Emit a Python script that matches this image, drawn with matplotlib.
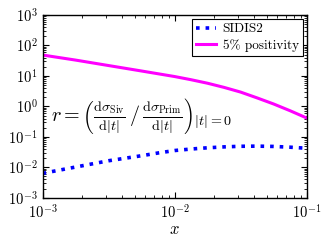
import numpy as np
import matplotlib
matplotlib.use("Agg")
import matplotlib.pyplot as plt

plt.rcParams["font.family"] = "serif"
plt.rcParams["font.serif"] = ["cmr10"]
plt.rcParams["mathtext.fontset"] = "cm"
plt.rcParams["axes.formatter.use_mathtext"] = True
plt.rcParams["axes.unicode_minus"] = False

# values (x given as log10 exponents)
logx_sidis = [-3.0, -2.75, -2.5, -2.25, -2.125, -2.0, -1.875, -1.75, -1.625,
              -1.5, -1.375, -1.25, -1.125, -1.0]
sidis2 = [0.00632, 0.0102, 0.0164, 0.024, 0.0295, 0.0355, 0.0398, 0.0437, 0.0468,
          0.049, 0.0495, 0.0484, 0.0457, 0.0422]
logx_pos = [-3.0, -2.75, -2.5, -2.25, -2.0, -1.875, -1.75, -1.625,
            -1.5, -1.375, -1.25, -1.125, -1.0]
positivity = [48.5, 33.1, 21.9, 14.5, 9.55, 7.5, 5.75, 4.2,
              2.95, 1.9, 1.2, 0.72, 0.417]

x_sidis = [10**v for v in logx_sidis]
x_pos = [10**v for v in logx_pos]

fig = plt.figure(figsize=(3.3, 2.4), dpi=100)
ax = fig.add_axes([0.129, 0.176, 0.80, 0.7615])

ax.plot(x_sidis, sidis2, color="#0000ff", ls=":", lw=2.6, label="SIDIS2")
ax.plot(x_pos, positivity, color="#ff00ff", ls="-", lw=2.2, label="5% positivity")

ax.set_xscale("log")
ax.set_yscale("log")
ax.set_xlim(1e-3, 1e-1)
ax.set_ylim(1e-3, 1e3)
ax.set_xticks([1e-3, 1e-2, 1e-1])
ax.set_yticks([1e-3, 1e-2, 1e-1, 1e0, 1e1, 1e2, 1e3])
ax.yaxis.set_minor_locator(matplotlib.ticker.LogLocator(base=10, subs=np.arange(2, 10), numticks=20))
ax.tick_params(which="both", direction="in", top=True, right=True, labelsize=10.5)
ax.tick_params(axis="x", pad=4)
ax.tick_params(which="major", length=4, width=0.8)
ax.tick_params(which="minor", length=2, width=0.6)
for s in ax.spines.values():
    s.set_linewidth(1.0)

ax.set_xlabel("$x$", fontsize=12, labelpad=0)

ax.text(0.032, 0.45,
        r"$r = \left(\frac{\mathrm{d}\sigma_{\mathrm{Siv}}}{\mathrm{d}|t|}\,/\,"
        r"\frac{\mathrm{d}\sigma_{\mathrm{Prim}}}{\mathrm{d}|t|}\right)_{|t|=0}$",
        transform=ax.transAxes, fontsize=14.5, va="center", ha="left")

leg = ax.legend(loc="upper right", fontsize=9.5, frameon=True, fancybox=False,
                edgecolor="black", framealpha=1, handlelength=1.5,
                borderaxespad=0.3, borderpad=0.3, labelspacing=0.3, handletextpad=0.5)
leg.get_frame().set_linewidth(0.8)

fig.savefig("out.png", dpi=100)
